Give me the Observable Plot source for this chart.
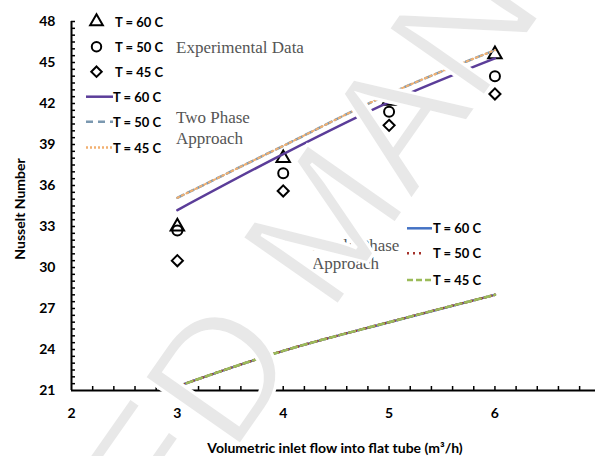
<!DOCTYPE html>
<html>
<head>
<meta charset="utf-8">
<script src="https://cdn.jsdelivr.net/npm/d3@7"></script>
<script src="https://cdn.jsdelivr.net/npm/@observablehq/plot@0.6"></script>
<style>
  html, body { margin: 0; padding: 0; background: #fff; }
  svg { display: block; }
</style>
</head>
<body>
<script>
// ---- data ----
const flow = [3, 4, 5, 6];                       // m3/h
const exp60 = [33.0, 38.0, 42.2, 45.6];          // Experimental, T = 60 C (triangle)
const exp50 = [32.7, 36.9, 41.4, 44.0];          // Experimental, T = 50 C (circle)
const exp45 = [30.5, 35.6, 40.4, 42.7];          // Experimental, T = 45 C (diamond)
const two60 = [34.2, 38.3, 42.1, 45.3];          // Two phase approach
const two50 = [35.1, 38.9, 42.7, 45.9];
const two45 = [35.1, 38.9, 42.7, 45.9];
const single60 = [21.3, 23.9, 26.0, 28.0];       // Single phase approach
const single50 = [21.3, 23.9, 26.0, 28.0];
const single45 = [21.3, 23.9, 26.0, 28.0];
const xTickLabels = [2, 3, 4, 5, 6];
const yTickLabels = [21, 24, 27, 30, 33, 36, 39, 42, 45, 48];
const xTitle = "Volumetric inlet flow into flat tube (m³/h)";
const yTitle = "Nusselt Number";

const toRows = (vals) => flow.map((x, i) => ({x, y: vals[i]}));

const W = 595, H = 456, mL = 71, mR = 0, mT = 21, mB = 66;
const plotW = W - mL - mR, plotH = H - mT - mB;
const xMinor = d3.range(2.2, 6.95, 0.2);
const yMinor = d3.range(21.5, 48.01, 0.5);

const svg = Plot.plot({
  width: W, height: H,
  marginLeft: mL, marginRight: mR, marginTop: mT, marginBottom: mB,
  style: {fontFamily: "Lato, sans-serif", fontWeight: "bold", fontSize: "14px", color: "#000", background: "#fff"},
  x: {domain: [2, 6.95], label: null},
  y: {domain: [21, 48], label: null},
  marks: [
    Plot.axisX({ticks: xTickLabels, tickSize: 0, tickPadding: 18, tickFormat: d3.format("d")}),
    Plot.axisY({ticks: yTickLabels, tickSize: 0, tickPadding: 16, tickFormat: d3.format("d")}),
    // inward minor ticks
    Plot.tickY(yMinor, {y: d => d, stroke: "#000", strokeWidth: 1.5, insetRight: plotW - 4}),
    Plot.tickX(xMinor, {x: d => d, stroke: "#000", strokeWidth: 1.5, insetTop: plotH - 4}),
    Plot.ruleX([2], {stroke: "#000", strokeWidth: 2}),
    Plot.ruleY([21], {stroke: "#000", strokeWidth: 2}),
    // experimental
    Plot.dot(toRows(exp60), {x: "x", y: "y", symbol: "triangle", r: 5, stroke: "#000", strokeWidth: 2, fill: "none"}),
    Plot.dot(toRows(exp50), {x: "x", y: "y", symbol: "circle", r: 5, stroke: "#000", strokeWidth: 2, fill: "none"}),
    Plot.dot(toRows(exp45), {x: "x", y: "y", symbol: "diamond2", r: 5, stroke: "#000", strokeWidth: 2, fill: "none"}),
    // single phase
    Plot.line(toRows(single60), {x: "x", y: "y", curve: "monotone-x", stroke: "#4472c4", strokeWidth: 2.5}),
    Plot.line(toRows(single50), {x: "x", y: "y", curve: "monotone-x", stroke: "#a5322b", strokeWidth: 2.5, strokeDasharray: "2,3"}),
    Plot.line(toRows(single45), {x: "x", y: "y", curve: "monotone-x", stroke: "#9bbb59", strokeWidth: 2.5, strokeDasharray: "6,4"}),
    // two phase
    Plot.line(toRows(two60), {x: "x", y: "y", curve: "monotone-x", stroke: "#5b3d99", strokeWidth: 2.5}),
    Plot.line(toRows(two50), {x: "x", y: "y", curve: "monotone-x", stroke: "#7b98b0", strokeWidth: 2.5, strokeDasharray: "7,4"}),
    Plot.line(toRows(two45), {x: "x", y: "y", curve: "monotone-x", stroke: "#f2b070", strokeWidth: 2, strokeDasharray: "2,3"})
  ]
});
document.body.appendChild(svg);

const root = d3.select(svg);
// axis titles
root.append("text").attr("x", 335).attr("y", 447).attr("text-anchor", "middle").attr("dominant-baseline", "central")
  .style("font-size", "14px").style("font-weight", "bold").text(xTitle);
root.append("text").attr("transform", "translate(19,209) rotate(-90)").attr("text-anchor", "middle").attr("dominant-baseline", "central")
  .style("font-size", "14px").style("font-weight", "bold").text(yTitle);

// legend 1
const leg = root.append("g").style("font-size", "13px").style("font-weight", "bold").attr("text-anchor", "start");
const sym = [d3.symbolTriangle, d3.symbolCircle, d3.symbolDiamond2];
const labels1 = ["T = 60 C", "T = 50 C", "T = 45 C", "T = 60 C", "T = 50 C", "T = 45 C"];
const rows1 = [21.7, 46.7, 71.7, 96.7, 121.7, 147.5];
for (let i = 0; i < 3; i++) {
  leg.append("path").attr("d", d3.symbol(sym[i], 70)()).attr("transform", `translate(96.5,${rows1[i]})`)
    .attr("fill", "none").attr("stroke", "#000").attr("stroke-width", 2);
  leg.append("text").attr("x", 115).attr("y", rows1[i]).attr("dominant-baseline", "central").text(labels1[i]);
}
const lineStyles1 = [["#5b3d99", null], ["#7b98b0", "7,5"], ["#f2b070", "2,2"]];
for (let i = 0; i < 3; i++) {
  leg.append("line").attr("x1", 86).attr("x2", 113).attr("y1", rows1[i + 3]).attr("y2", rows1[i + 3])
    .attr("stroke", lineStyles1[i][0]).attr("stroke-width", 2.5).attr("stroke-dasharray", lineStyles1[i][1]);
  leg.append("text").attr("x", 113).attr("y", rows1[i + 3]).attr("dominant-baseline", "central").text(labels1[i + 3]);
}
// legend 2
const rows2 = [228.3, 253.3, 280];
const labels2 = ["T = 60 C", "T = 50 C", "T = 45 C"];
const lineStyles2 = [["#4472c4", null], ["#a5322b", "2,4"], ["#9bbb59", "6,3"]];
for (let i = 0; i < 3; i++) {
  leg.append("line").attr("x1", 407).attr("x2", i === 1 ? 424 : 432).attr("y1", rows2[i]).attr("y2", rows2[i])
    .attr("stroke", lineStyles2[i][0]).attr("stroke-width", 2.5).attr("stroke-dasharray", lineStyles2[i][1]);
  leg.append("text").attr("x", 433).attr("y", rows2[i]).attr("dominant-baseline", "central").text(labels2[i]);
}
// serif annotations
const ann = root.append("g").style("font-family", "'Liberation Serif', serif").style("font-weight", "normal")
  .style("font-size", "17px").attr("fill", "#555").attr("text-anchor", "start");
[["Experimental Data", 176, 47], ["Two Phase", 176, 117], ["Approach", 176, 138],
 ["Single Phase", 312, 245], ["Approach", 312, 263]].forEach(([t, x, y]) =>
  ann.append("text").attr("x", x).attr("y", y).attr("dominant-baseline", "central").text(t));

// watermark
const wm = root.append("g").attr("transform", "translate(268,302) rotate(-55)")
  .style("font-family", "'Liberation Sans', sans-serif").style("font-size", "170px").style("font-weight", "normal")
  .attr("fill", "#e8e8e8").attr("stroke", "#fff").attr("stroke-width", 3);
wm.append("text").attr("x", -24).attr("text-anchor", "end").attr("dominant-baseline", "central").text("ACCEPTED");
wm.append("text").attr("x", 24).attr("text-anchor", "start").attr("dominant-baseline", "central").text("MANUSCRIPT");
</script>
</body>
</html>
